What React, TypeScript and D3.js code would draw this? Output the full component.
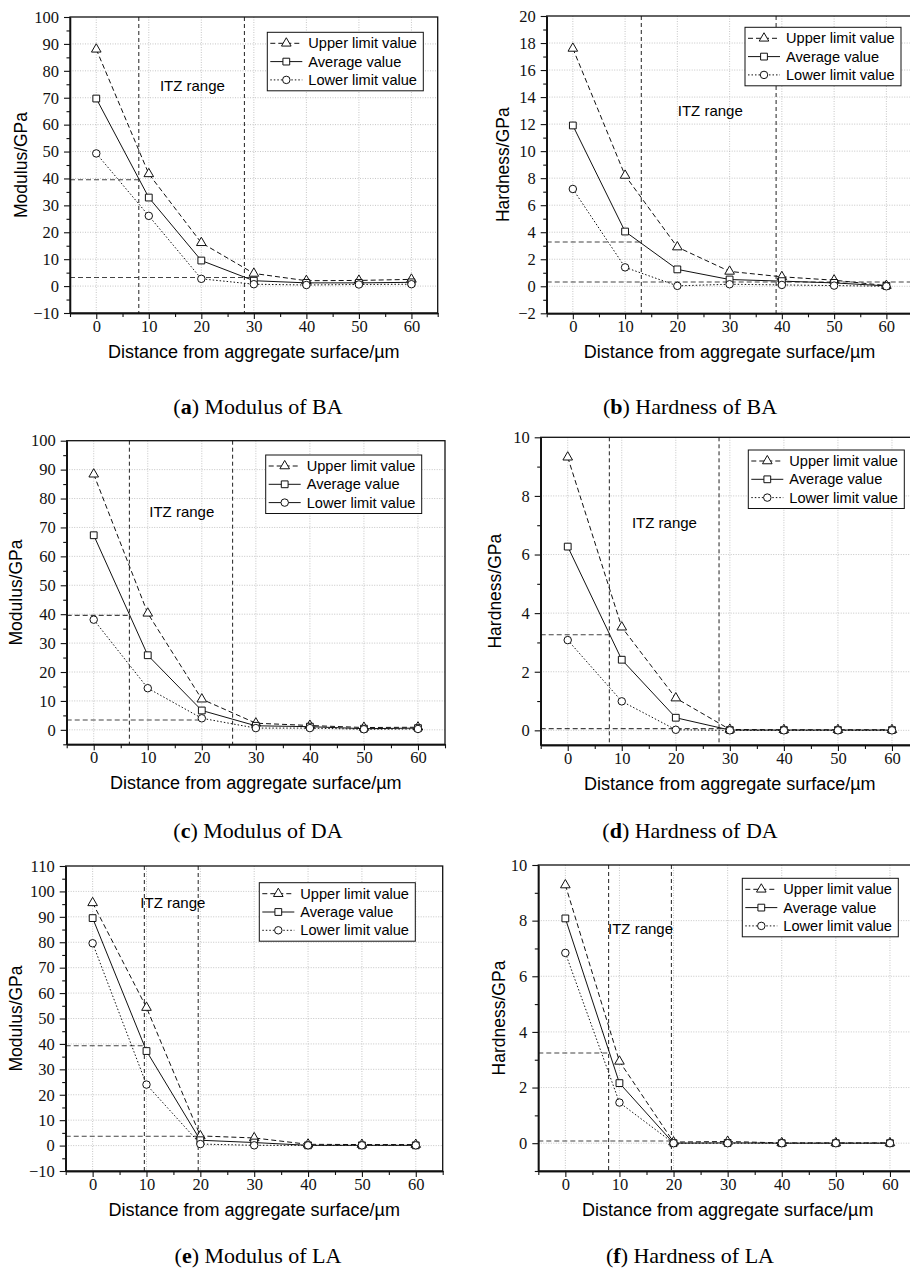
import React, { useEffect, useRef } from 'react';
import * as d3 from 'd3';

// distance from aggregate surface (µm)
const distances = [0, 10, 20, 30, 40, 50, 60];

const seriesNames = ['Upper limit value', 'Average value', 'Lower limit value'];

// (a) Modulus of BA
const baModUpper = [88, 41.7, 16.1, 4.7, 2.0, 2.1, 2.5];
const baModAverage = [69.7, 32.9, 9.5, 2.0, 1.2, 1.2, 1.4];
const baModLower = [49.3, 26.1, 2.7, 0.7, 0.4, 0.6, 0.7];
const baModItz = [8.1, 28.2];
const baModRefLines = [[39.5, 8.1], [3.2, 29.5]]; // [value, end of line on x]

// (b) Hardness of BA
const baHardUpper = [17.6, 8.2, 2.9, 1.1, 0.7, 0.45, 0.05];
const baHardAverage = [11.9, 4.05, 1.25, 0.5, 0.38, 0.25, 0.03];
const baHardLower = [7.2, 1.4, 0.03, 0.15, 0.1, 0.05, 0.0];
const baHardItz = [13.1, 38.9];
const baHardRefLines = [[3.28, 13.1], [0.32, 65]];

// (c) Modulus of DA
const daModUpper = [88.4, 40.3, 10.6, 2.3, 1.5, 0.8, 0.9];
const daModAverage = [67.3, 25.8, 6.7, 1.4, 1.1, 0.4, 0.6];
const daModLower = [38.1, 14.4, 4.0, 0.6, 0.6, 0.2, 0.3];
const daModItz = [6.6, 25.7];
const daModRefLines = [[39.6, 6.6], [3.4, 20]];

// (d) Hardness of DA
const daHardUpper = [9.32, 3.52, 1.1, 0.03, 0.02, 0.02, 0.02];
const daHardAverage = [6.27, 2.41, 0.43, 0.01, 0.01, 0.01, 0.01];
const daHardLower = [3.08, 0.99, 0.02, 0.0, 0.0, 0.0, 0.0];
const daHardItz = [7.7, 28.0];
const daHardRefLines = [[3.26, 7.7], [0.06, 30]];

// (e) Modulus of LA
const laModUpper = [95.5, 54.3, 3.8, 3.0, 0.5, 0.4, 0.4];
const laModAverage = [89.5, 37.2, 2.1, 1.2, 0.1, 0.1, 0.1];
const laModLower = [79.6, 24.0, 0.6, 0.1, 0.1, 0.1, 0.1];
const laModItz = [9.6, 19.6];
const laModRefLines = [[39.3, 9.6], [3.7, 20]];

// (f) Hardness of LA
const laHardUpper = [9.28, 2.94, 0.04, 0.06, 0.01, 0.01, 0.01];
const laHardAverage = [8.08, 2.16, 0.0, 0.01, 0.0, 0.0, 0.0];
const laHardLower = [6.84, 1.46, 0.0, 0.0, 0.0, 0.0, 0.0];
const laHardItz = [8.0, 19.6];
const laHardRefLines = [[3.24, 8.0], [0.08, 20]];

const panels = [
  { tag: 'a', caption: 'Modulus of BA', yLabel: 'Modulus/GPa', yDomain: [-10, 100], yStep: 10,
    series: [baModUpper, baModAverage, baModLower], itz: baModItz, refLines: baModRefLines, itzText: [18.3, 74.7],
    left: 70, top: 17, right: 437.7, bottom: 313, yLabelX: 27, legendX: 267.3, legendY: 32.3, captionX: 258, captionY: 414 },
  { tag: 'b', caption: 'Hardness of BA', yLabel: 'Hardness/GPa', yDomain: [-2, 20], yStep: 2,
    series: [baHardUpper, baHardAverage, baHardLower], itz: baHardItz, refLines: baHardRefLines, itzText: [26.3, 13],
    left: 546.7, top: 16, right: 912.5, bottom: 313.3, yLabelX: 508.5, legendX: 745, legendY: 27.3, captionX: 690, captionY: 414 },
  { tag: 'c', caption: 'Modulus of DA', yLabel: 'Modulus/GPa', yDomain: [-5, 100], yStep: 10, yFirst: 0,
    series: [daModUpper, daModAverage, daModLower], itz: daModItz, refLines: daModRefLines, itzText: [16.3, 75.5],
    left: 66.7, top: 440.7, right: 445, bottom: 744.3, yLabelX: 22, legendX: 265.7, legendY: 455, captionX: 258, captionY: 838,
    solidLowerLegend: true },
  { tag: 'd', caption: 'Hardness of DA', yLabel: 'Hardness/GPa', yDomain: [-0.5, 10], yStep: 2, yFirst: 0,
    series: [daHardUpper, daHardAverage, daHardLower], itz: daHardItz, refLines: daHardRefLines, itzText: [17.9, 7.1],
    left: 540.7, top: 437.3, right: 919, bottom: 745, yLabelX: 501, legendX: 748.3, legendY: 450, captionX: 690, captionY: 838 },
  { tag: 'e', caption: 'Modulus of LA', yLabel: 'Modulus/GPa', yDomain: [-10, 110], yStep: 10,
    series: [laModUpper, laModAverage, laModLower], itz: laModItz, refLines: laModRefLines, itzText: [14.9, 95.7],
    left: 65.7, top: 866, right: 442.7, bottom: 1171, yLabelX: 22, legendX: 259.3, legendY: 882.7, captionX: 258, captionY: 1263 },
  { tag: 'f', caption: 'Hardness of LA', yLabel: 'Hardness/GPa', yDomain: [-1, 10], yStep: 2, yFirst: 0,
    series: [laHardUpper, laHardAverage, laHardLower], itz: laHardItz, refLines: laHardRefLines, itzText: [13.9, 7.7],
    left: 538.3, top: 865, right: 917, bottom: 1171, yLabelX: 504.5, legendX: 742.3, legendY: 878.3, captionX: 690, captionY: 1263 },
];

const SANS = '"Liberation Sans", Arial, sans-serif';
const SERIF = '"Liberation Serif", "Times New Roman", serif';
const dashes = ['5,3', null, '1.5,2'];
const symbols = [d3.symbolTriangle, d3.symbolSquare, d3.symbolCircle];
const symbolSizes = [40, 46, 44];

const drawPanel = (svg: any, p: any) => {
  const x = d3.scaleLinear().domain([-5, 65]).range([p.left, p.right]);
  const y = d3.scaleLinear().domain(p.yDomain).range([p.bottom, p.top]);
  const g = svg.append('g');

  const yFirst = p.yFirst ?? p.yDomain[0];
  const yMajor = d3.range(yFirst, p.yDomain[1] + 1e-9, p.yStep);
  const yMinor = d3.range(yFirst - p.yStep / 2, p.yDomain[1], p.yStep).filter(v => v >= p.yDomain[0] - 1e-9);
  const xMajor = d3.range(0, 61, 10);
  const xMinor = d3.range(-5, 66, 10);

  // grid
  g.selectAll('.gx').data(xMajor).enter().append('line')
    .attr('x1', d => x(d)).attr('x2', d => x(d))
    .attr('y1', p.top).attr('y2', p.bottom)
    .attr('stroke', '#b8b8b8').attr('stroke-width', 0.8).attr('stroke-dasharray', '1,1.5');
  g.selectAll('.gy').data(yMajor.filter(v => v > p.yDomain[0] && v < p.yDomain[1])).enter().append('line')
    .attr('x1', p.left).attr('x2', p.right)
    .attr('y1', d => y(d)).attr('y2', d => y(d))
    .attr('stroke', '#b8b8b8').attr('stroke-width', 0.8).attr('stroke-dasharray', '1,1.5');

  // ITZ boundaries
  g.selectAll('.itz').data(p.itz).enter().append('line')
    .attr('x1', d => x(d)).attr('x2', d => x(d))
    .attr('y1', p.top).attr('y2', p.bottom)
    .attr('stroke', '#222').attr('stroke-width', 1).attr('stroke-dasharray', '4,3');

  // reference values
  g.selectAll('.ref').data(p.refLines).enter().append('line')
    .attr('x1', p.left).attr('x2', d => x(d[1]))
    .attr('y1', d => y(d[0])).attr('y2', d => y(d[0]))
    .attr('stroke', '#444').attr('stroke-width', 1.1).attr('stroke-dasharray', '5,3');

  // series
  const line = d3.line<number>().x((_, i) => x(distances[i])).y(d => y(d));
  p.series.forEach((vals: number[], s: number) => {
    g.append('path').datum(vals)
      .attr('fill', 'none').attr('stroke', '#111').attr('stroke-width', 1)
      .attr('stroke-dasharray', dashes[s])
      .attr('d', line);
  });
  p.series.forEach((vals: number[], s: number) => {
    g.selectAll(null).data(vals).enter().append('path')
      .attr('transform', (d, i) => `translate(${x(distances[i])},${y(d)})`)
      .attr('d', d3.symbol().type(symbols[s]).size(symbolSizes[s])())
      .attr('fill', 'white').attr('stroke', '#111').attr('stroke-width', 1);
  });

  // ITZ label
  g.append('text')
    .attr('x', x(p.itzText[0])).attr('y', y(p.itzText[1]))
    .attr('text-anchor', 'middle').attr('dominant-baseline', 'central')
    .style('font-family', SANS).style('font-size', '15px')
    .text('ITZ range');

  // legend
  const lg = g.append('g').attr('transform', `translate(${p.legendX},${p.legendY})`);
  lg.append('rect').attr('width', 156).attr('height', 58.5)
    .attr('fill', 'white').attr('stroke', '#111').attr('stroke-width', 1);
  seriesNames.forEach((name, s) => {
    const ry = 11 + s * 18.3;
    const dash = (s === 2 && p.solidLowerLegend) ? null : dashes[s];
    lg.append('line').attr('x1', 3).attr('x2', 35).attr('y1', ry).attr('y2', ry)
      .attr('stroke', '#111').attr('stroke-width', 1).attr('stroke-dasharray', dash);
    lg.append('path').attr('transform', `translate(19,${ry})`)
      .attr('d', d3.symbol().type(symbols[s]).size(symbolSizes[s])())
      .attr('fill', 'white').attr('stroke', '#111');
    lg.append('text').attr('x', 41).attr('y', ry).attr('dominant-baseline', 'central')
      .style('font-family', SANS).style('font-size', '14.6px').text(name);
  });

  // axes
  const fmt = (d: any) => d3.format('d')(d);
  const yAxis = g.append('g').attr('transform', `translate(${p.left},0)`)
    .call(d3.axisLeft(y).tickValues(yMajor).tickSize(6).tickPadding(5).tickSizeOuter(0).tickFormat(fmt));
  g.append('g').attr('transform', `translate(${p.left},0)`)
    .call(d3.axisLeft(y).tickValues(yMinor).tickSize(3.5).tickSizeOuter(0).tickFormat(() => ''));
  const xAxis = g.append('g').attr('transform', `translate(0,${p.bottom})`)
    .call(d3.axisBottom(x).tickValues(xMajor).tickSize(6).tickPadding(1).tickSizeOuter(0).tickFormat(fmt));
  g.append('g').attr('transform', `translate(0,${p.bottom})`)
    .call(d3.axisBottom(x).tickValues(xMinor).tickSize(4).tickSizeOuter(0).tickFormat(() => ''));
  [yAxis, xAxis].forEach(a => a.selectAll('text')
    .style('font-family', SERIF).style('font-size', '16.5px').attr('fill', '#111'));
  g.selectAll('.domain').attr('stroke', '#111').attr('stroke-width', 1.3);
  g.selectAll('.tick line').attr('stroke', '#111').attr('stroke-width', 1.1);

  // frame
  g.append('rect')
    .attr('x', p.left).attr('y', p.top)
    .attr('width', p.right - p.left).attr('height', p.bottom - p.top)
    .attr('fill', 'none').attr('stroke', '#111').attr('stroke-width', 1.3);

  // axis titles
  g.append('text')
    .attr('x', (p.left + p.right) / 2).attr('y', p.bottom + 45)
    .attr('text-anchor', 'middle')
    .style('font-family', SANS).style('font-size', '18px')
    .text('Distance from aggregate surface/µm');
  g.append('text')
    .attr('transform', `translate(${p.yLabelX},${(p.top + p.bottom) / 2}) rotate(-90)`)
    .attr('text-anchor', 'middle')
    .style('font-family', SANS).style('font-size', '17.5px')
    .text(p.yLabel);

  // caption
  const cap = g.append('text')
    .attr('x', p.captionX).attr('y', p.captionY)
    .attr('text-anchor', 'middle')
    .style('font-family', SERIF).style('font-size', '22px');
  cap.append('tspan').text('(');
  cap.append('tspan').style('font-weight', 'bold').text(p.tag);
  cap.append('tspan').text(') ' + p.caption);
};

const App = () => {
  const svgRef = useRef<SVGSVGElement>(null);

  useEffect(() => {
    const svg = d3.select(svgRef.current);
    svg.selectAll('*').remove();
    panels.forEach(p => drawPanel(svg, p));
  }, []);

  return (
    <svg ref={svgRef} width={910} height={1273}
      style={{ position: 'absolute', left: 0, top: 0, background: '#fff' }} />
  );
};

export default App;
